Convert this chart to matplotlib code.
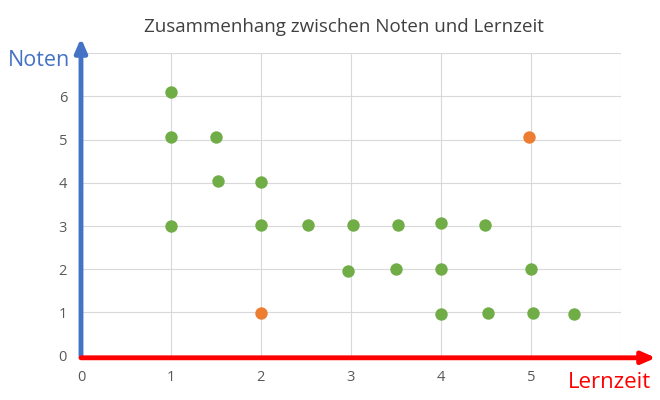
import matplotlib
matplotlib.use("Agg")
import matplotlib.pyplot as plt

plt.rcParams['font.family'] = ['Open Sans', 'DejaVu Sans']

green_x = [1.0, 1.0, 1.5, 1.52, 2.0, 1.0, 2.0, 2.52, 3.02, 3.52, 4.0, 4.49,
           2.97, 3.5, 4.0, 5.0, 4.0, 4.53, 5.03, 5.48]
green_y = [6.1, 5.07, 5.07, 4.05, 4.03, 3.0, 3.02, 3.02, 3.03, 3.03, 3.06, 3.03,
           1.97, 2.0, 2.01, 2.01, 0.97, 0.99, 0.99, 0.97]
orange_x = [2.0, 4.98]
orange_y = [0.99, 5.07]
x_ticks = [0, 1, 2, 3, 4, 5]
y_ticks = [0, 1, 2, 3, 4, 5, 6]
title = "Zusammenhang zwischen Noten und Lernzeit"
x_label = "Lernzeit"
y_label = "Noten"

fig = plt.figure(figsize=(6.6, 4.0), dpi=100)
ax = fig.add_axes([0.1227, 0.1108, 0.8178, 0.756])
ax.set_xlim(0, 6)
ax.set_ylim(0, 7)
grid_c = '#D9D9D9'
for v in range(1, 7):
    ax.axvline(v, color=grid_c, lw=0.8, zorder=0)
for v in range(1, 8):
    ax.axhline(v, color=grid_c, lw=0.8, zorder=0)
for s in ax.spines.values():
    s.set_visible(False)

ax.scatter(green_x, green_y, s=80, color='#70AD47', zorder=3, linewidths=0)
ax.scatter(orange_x, orange_y, s=80, color='#ED7D31', zorder=3, linewidths=0)

ax.set_xticks(x_ticks)
ax.set_yticks(y_ticks)
ax.tick_params(length=0, labelsize=10.5, colors='#595959')
ax.tick_params(axis='x', pad=10)
ax.tick_params(axis='y', pad=10)

# axis arrows
ax.annotate('', xy=(0, 1.05), xytext=(0, 0), xycoords='axes fraction',
            textcoords='axes fraction',
            arrowprops=dict(arrowstyle='-|>,head_length=0.8,head_width=0.35',
                            color='#4472C4', lw=3.5, shrinkA=0, shrinkB=0),
            annotation_clip=False)
ax.annotate('', xy=(1.065, -0.007), xytext=(0, -0.007), xycoords='axes fraction',
            textcoords='axes fraction',
            arrowprops=dict(arrowstyle='-|>,head_length=0.8,head_width=0.35',
                            color='#FF0000', lw=3.5, shrinkA=0, shrinkB=0),
            annotation_clip=False)

fig.text(0.521, 0.92, title, ha='center', va='baseline', fontsize=13.5, color='#404040')
fig.text(0.059, 0.85, y_label, ha='center', va='center', fontsize=15.5, color='#4472C4')
fig.text(0.923, 0.045, x_label, ha='center', va='center', fontsize=16, color='#FF0000')

fig.savefig('out.png', dpi=100)
